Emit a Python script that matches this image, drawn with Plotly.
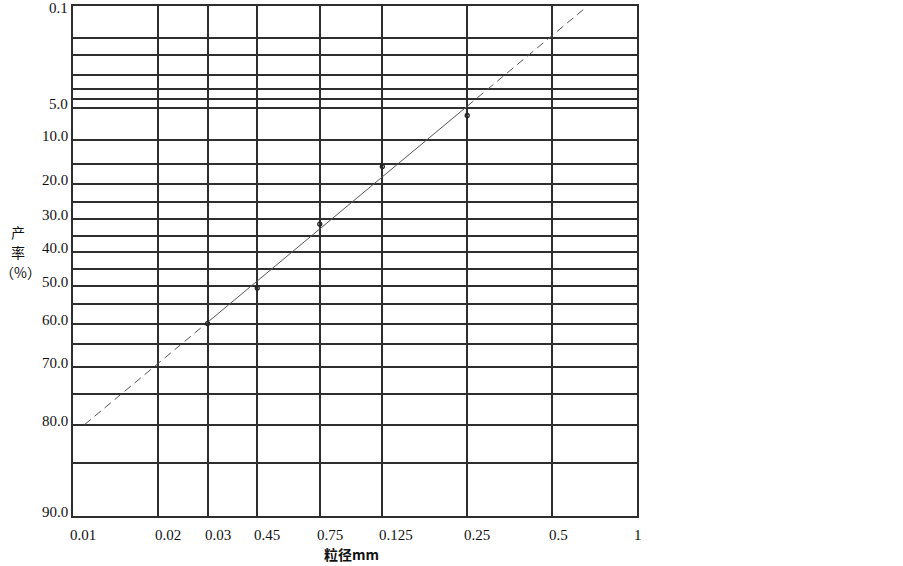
import numpy as np
import plotly.graph_objects as go

# ---- data ----
x_ticks = [0.01, 0.02, 0.03, 0.045, 0.075, 0.125, 0.25, 0.5, 1]
x_ticklabels = ["0.01", "0.02", "0.03", "0.45", "0.75", "0.125", "0.25", "0.5", "1"]

y_grid = [0.1, 0.5, 1, 2, 3, 4, 5, 10, 15, 20, 25, 30, 35, 40, 45, 50, 55, 60, 65, 70, 75, 80, 85, 90]
y_labeled = [0.1, 5, 10, 20, 30, 40, 50, 60, 70, 80, 90]
y_ticklabels = ["0.1", "5.0", "10.0", "20.0", "30.0", "40.0", "50.0", "60.0", "70.0", "80.0", "90.0"]

pts_x = [0.03, 0.045, 0.075, 0.125, 0.25]
pts_y = [60.0, 50.5, 31.5, 15.7, 6.0]

fit_solid_x = [0.03, 0.25]
fit_solid_y = [59.7, 4.8]
fit_dash_lo_x = [0.011, 0.03]
fit_dash_lo_y = [80.0, 59.7]
fit_dash_hi_x = [0.25, 0.65]
fit_dash_hi_y = [4.8, 0.117]


def rr(r):
    """Rosin-Rammler probability scale: ln(ln(100/R))."""
    r = np.asarray(r, dtype=float)
    return np.log(np.log(100.0 / r))


GRID = "#2e2e2e"
LINE = "#555555"
SERIF = "Liberation Serif"
CJK = "Noto Sans CJK SC"
TXT = "#111111"

fig = go.Figure()

fig.add_trace(go.Scatter(x=fit_dash_lo_x, y=rr(fit_dash_lo_y), mode="lines",
                         line=dict(color=LINE, width=1, dash="8px,5px"), showlegend=False))
fig.add_trace(go.Scatter(x=fit_solid_x, y=rr(fit_solid_y), mode="lines",
                         line=dict(color=LINE, width=1), showlegend=False))
fig.add_trace(go.Scatter(x=fit_dash_hi_x, y=rr(fit_dash_hi_y), mode="lines",
                         line=dict(color=LINE, width=1, dash="8px,5px"), showlegend=False))
fig.add_trace(go.Scatter(x=pts_x, y=rr(pts_y), mode="markers",
                         marker=dict(symbol="circle-open", size=4, color="#222222",
                                     line=dict(width=1.3, color="#222222")),
                         showlegend=False))

fig.update_yaxes(
    range=[float(rr(90)), float(rr(0.1))],
    tickmode="array",
    tickvals=list(rr(y_grid)),
    showticklabels=False,
    showgrid=True, gridcolor=GRID, gridwidth=1.7,
    showline=True, linecolor=GRID, linewidth=1.7, mirror=True,
    zeroline=False, ticks="",
    automargin=False,
)
fig.update_xaxes(
    type="log",
    range=[np.log10(0.01), np.log10(1)],
    tickmode="array",
    tickvals=x_ticks,
    showticklabels=False,
    showgrid=True, gridcolor=GRID, gridwidth=1.7,
    showline=True, linecolor=GRID, linewidth=1.7, mirror=True,
    zeroline=False, ticks="",
    automargin=False,
)

annotations = []
for v, t in zip(x_ticks, x_ticklabels):
    annotations.append(dict(x=np.log10(v), xref="x", y=0, yref="paper",
                            text=t, showarrow=False, xanchor="left", yanchor="middle",
                            xshift=-5, yshift=-19,
                            font=dict(family=SERIF, size=15, color=TXT)))

for i, (v, t) in enumerate(zip(y_labeled, y_ticklabels)):
    annotations.append(dict(x=0, xref="paper", y=float(rr(v)), yref="y",
                            text=t, showarrow=False, xanchor="right", yanchor="middle",
                            xshift=-3, yshift=(-2 if i == 0 else 4),
                            font=dict(family=SERIF, size=15, color=TXT)))

annotations.append(dict(x=0.494, xref="paper", y=0, yref="paper", text="<b>粒径mm</b>",
                        showarrow=False, xanchor="center", yanchor="middle", yshift=-38,
                        font=dict(family=CJK, size=14, color=TXT)))

for txt, ypx, xpx in [("产", 232, 18), ("率", 252, 18), ("（%）", 272, 21)]:
    annotations.append(dict(x=(xpx - 73.3) / 563.4, xref="paper",
                            y=(516.3 - ypx) / 510.6, yref="paper",
                            text=txt, showarrow=False, xanchor="center", yanchor="middle",
                            font=dict(family=CJK, size=14, color=TXT)))

fig.update_layout(
    width=903, height=566,
    margin=dict(l=73, r=266, t=6, b=50),
    paper_bgcolor="white", plot_bgcolor="white",
    annotations=annotations,
)

fig.write_html("out.html", config={"displayModeBar": False},
               post_script="document.body.style.margin='0';document.body.style.padding='0';")
